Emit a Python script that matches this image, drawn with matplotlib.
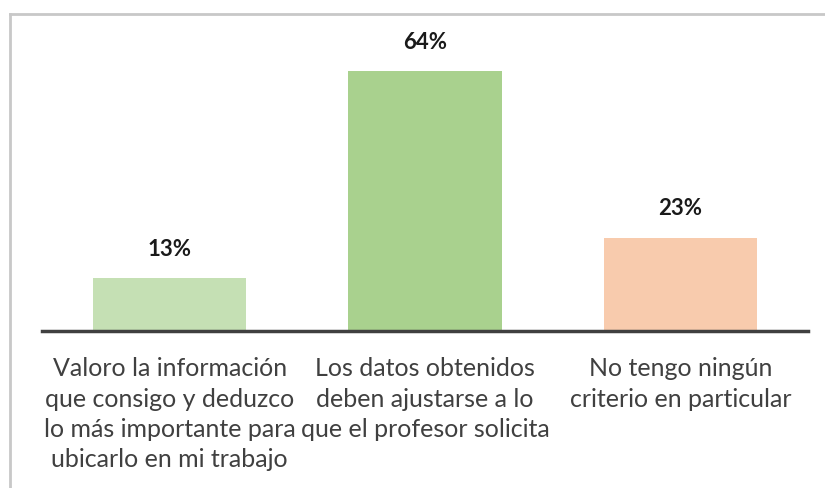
import matplotlib.pyplot as plt
from matplotlib.lines import Line2D

# --- Datos ---
categorias = [
    "Valoro la información\nque consigo y deduzco\nlo más importante para\nubicarlo en mi trabajo",
    "Los datos obtenidos\ndeben ajustarse a lo\nque el profesor solicita",
    "No tengo ningún\ncriterio en particular",
]
porcentajes = [13, 64, 23]
colores = ["#c5e0b4", "#a9d18e", "#f8cbad"]

plt.rcParams['font.family'] = ['Lato', 'DejaVu Sans']

fig = plt.figure(figsize=(8.25, 4.88), dpi=100)
ax = fig.add_axes([42 / 825, 157 / 488, 766 / 825, 317 / 488])

x = range(len(categorias))
ax.bar(x, porcentajes, width=0.6, color=colores)

for xi, v in zip(x, porcentajes):
    ax.annotate(f"{v}%", (xi, v), xytext=(0, 13), textcoords="offset points",
                ha="center", va="bottom", fontsize=16, fontweight="bold",
                color="#1a1a1a")

ax.set_xlim(-0.5, 2.5)
ax.set_ylim(0, 78)
ax.set_yticks([])
ax.set_xticks(list(x))
ax.set_xticklabels(categorias, fontsize=18, color="#404040", linespacing=1.38)
ax.tick_params(axis="x", length=0, pad=19)

for s in ["top", "right", "left"]:
    ax.spines[s].set_visible(False)
ax.spines["bottom"].set_color("#404040")
ax.spines["bottom"].set_linewidth(2.5)

# marco gris de la imagen
fig.add_artist(Line2D([10 / 825, 1], [1 - 14 / 488, 1 - 14 / 488],
                      transform=fig.transFigure, color="#c8c8c8", lw=2))
fig.add_artist(Line2D([10 / 825, 10 / 825], [0, 1 - 14 / 488],
                      transform=fig.transFigure, color="#c8c8c8", lw=2))

fig.savefig("out.png", dpi=100)
